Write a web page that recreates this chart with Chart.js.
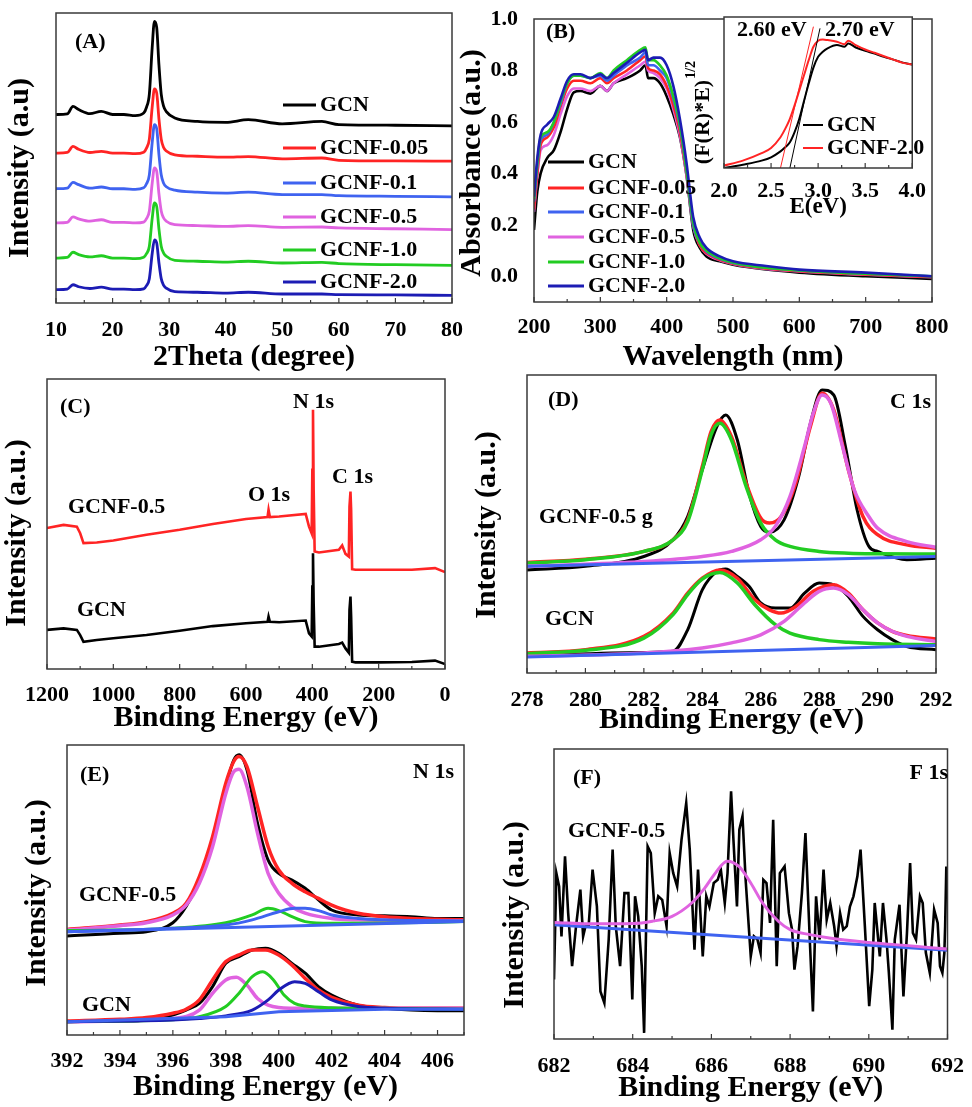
<!DOCTYPE html>
<html>
<head>
<meta charset="utf-8">
<script src="https://cdn.jsdelivr.net/npm/chart.js@4.4.1/dist/chart.umd.min.js"></script>
<style>
  body { margin: 0; background: #fff; }
  #wrap { position: relative; width: 972px; height: 1107px; overflow: hidden; background: #fff; }
  canvas { position: absolute; }
</style>
</head>
<body>
<div id="wrap">
  <canvas id="cA" width="486" height="372" style="left:0;top:0"></canvas>
  <canvas id="cB" width="517" height="372" style="left:455px;top:0"></canvas>
  <canvas id="cI" width="250" height="214" style="left:680px;top:5px"></canvas>
  <canvas id="cC" width="486" height="363" style="left:0;top:370px"></canvas>
  <canvas id="cD" width="502" height="365" style="left:470px;top:370px"></canvas>
  <canvas id="cE" width="486" height="362" style="left:0;top:740px"></canvas>
  <canvas id="cF" width="486" height="363" style="left:486px;top:740px"></canvas>
</div>
<script>
// ---- (A) XRD ----
var xrdTheta = [10, 12, 13, 14, 16, 18, 20, 22, 24, 25.5, 26, 26.5, 27, 27.4, 27.8, 28.2, 28.6, 29, 29.5, 31, 35, 40, 44, 50, 57, 60, 70, 80];
var xrdGCN  = [65, 65.2, 67.8, 66.7, 65.3, 66.1, 65, 65, 64.6, 65.5, 67.5, 72, 88, 97.1, 95, 82, 72, 68, 66, 63.8, 62.6, 62.3, 63.2, 61.8, 62.6, 61.5, 61.3, 61.1];
var xrdF005 = [51.7, 51.9, 54, 53, 51.9, 52.3, 51.7, 51.7, 51.5, 52, 53.4, 56.5, 67.5, 73.8, 72.4, 63.4, 56.5, 53.7, 52.4, 51.1, 50.6, 50.3, 50.5, 49.7, 50, 49.2, 49, 48.9];
var xrdF01  = [39.4, 39.6, 41.6, 40.8, 39.6, 40, 39.4, 39.4, 39.2, 39.7, 41.1, 44.2, 55.2, 61.5, 60.1, 51.1, 44.2, 41.4, 40.1, 38.9, 38.2, 37.9, 38.2, 37.4, 37.4, 37, 36.8, 36.6];
var xrdF05  = [27.6, 27.8, 29.7, 29, 28.2, 28.7, 27.8, 27.8, 27.6, 27.9, 29.1, 31.7, 41.2, 46.6, 45.4, 37.6, 31.7, 29.4, 28.2, 27, 26.7, 26.4, 26.7, 26.1, 26.2, 25.9, 25.6, 25.3];
var xrdF10  = [15.5, 15.7, 17.5, 16.7, 15.9, 16.3, 15.5, 15.5, 15.3, 15.8, 17, 19.6, 29.1, 34.5, 33.3, 25.5, 19.6, 17.3, 16.1, 14.7, 14.4, 14.1, 14.4, 13.8, 14, 13.6, 13.2, 13];
var xrdF20  = [4.6, 4.8, 6.3, 5.6, 5, 5.5, 4.8, 4.8, 4.6, 4.9, 6, 8.4, 17, 21.8, 20.7, 13.8, 8.4, 6.2, 5.1, 3.9, 3.7, 3.4, 3.7, 3.1, 3.1, 2.9, 2.8, 2.6];
var xrdTicks = [10, 20, 30, 40, 50, 60, 70, 80];
var xrdMinor = [15, 25, 35, 45, 55, 65, 75];

// ---- (B) UV-vis ----
var uvWl = [200, 205, 210, 220, 230, 240, 250, 260, 270, 285, 300, 310, 320, 340, 360, 368, 372, 380, 390, 400, 410, 420, 430, 440, 450, 460, 480, 500, 550, 600, 700, 800];
var uvGCN  = [0.18, 0.33, 0.40, 0.46, 0.49, 0.56, 0.65, 0.715, 0.72, 0.71, 0.74, 0.72, 0.75, 0.77, 0.80, 0.82, 0.77, 0.77, 0.75, 0.70, 0.63, 0.54, 0.39, 0.18, 0.11, 0.077, 0.058, 0.045, 0.026, 0.014, 0.0, -0.01];
var uvF005 = [0.26, 0.40, 0.51, 0.54, 0.58, 0.66, 0.73, 0.76, 0.76, 0.75, 0.77, 0.75, 0.77, 0.80, 0.84, 0.855, 0.81, 0.80, 0.785, 0.74, 0.665, 0.56, 0.40, 0.20, 0.12, 0.09, 0.064, 0.049, 0.03, 0.02, 0.007, -0.003];
var uvF01  = [0.29, 0.43, 0.53, 0.55, 0.60, 0.67, 0.75, 0.78, 0.78, 0.77, 0.78, 0.76, 0.78, 0.82, 0.85, 0.87, 0.82, 0.82, 0.80, 0.77, 0.69, 0.58, 0.41, 0.20, 0.13, 0.096, 0.068, 0.052, 0.033, 0.023, 0.01, 0.0];
var uvF05  = [0.25, 0.39, 0.49, 0.51, 0.55, 0.63, 0.70, 0.73, 0.73, 0.72, 0.74, 0.72, 0.75, 0.785, 0.82, 0.835, 0.80, 0.79, 0.77, 0.73, 0.65, 0.545, 0.39, 0.195, 0.12, 0.087, 0.062, 0.048, 0.028, 0.019, 0.006, -0.004];
var uvF10  = [0.30, 0.44, 0.54, 0.56, 0.60, 0.68, 0.75, 0.78, 0.78, 0.77, 0.79, 0.77, 0.80, 0.84, 0.88, 0.89, 0.84, 0.84, 0.82, 0.78, 0.70, 0.59, 0.41, 0.21, 0.13, 0.10, 0.07, 0.054, 0.033, 0.023, 0.01, 0.0];
var uvF20  = [0.31, 0.46, 0.55, 0.59, 0.62, 0.69, 0.76, 0.785, 0.785, 0.77, 0.785, 0.77, 0.79, 0.83, 0.87, 0.88, 0.84, 0.85, 0.85, 0.82, 0.74, 0.61, 0.44, 0.23, 0.15, 0.11, 0.077, 0.058, 0.04, 0.026, 0.014, 0.0];
var uvTicks = [200, 300, 400, 500, 600, 700, 800];
var uvMinor = [250, 350, 450, 550, 650, 750];
var uvYTicks = [0, 0.2, 0.4, 0.6, 0.8, 1.0];

// ---- (B) inset, Tauc plot ----
var taucE   = [2.0, 2.2, 2.4, 2.5, 2.6, 2.65, 2.7, 2.75, 2.8, 2.85, 2.9, 2.95, 3.0, 3.05, 3.1, 3.2, 3.28, 3.32, 3.4, 3.5, 3.6, 3.7, 3.8, 3.9, 4.0];
var taucGCN = [0, 2.2, 4.9, 7.1, 11, 13.7, 17, 23.7, 32.6, 44.3, 55.9, 66.5, 73.6, 77, 79.2, 81.4, 80.3, 82.5, 79.8, 77.6, 75.8, 73.6, 71.8, 69.8, 68.5];
var taucF20 = [1.6, 4.9, 9.8, 13.3, 20.4, 25.9, 32.6, 41.5, 51.4, 61.4, 71.4, 80.3, 84.3, 85.1, 84.7, 83.6, 82, 84.3, 81.4, 78.5, 76.3, 74, 71.8, 69.6, 68.5];
var tangentGCN = [[2.7, 0], [3.02, 92.5]];
var tangentF20 = [[2.6, 0], [2.95, 93.6]];
var taucTicks = [2.0, 2.5, 3.0, 3.5, 4.0];
var taucMinor = [2.25, 2.75, 3.25, 3.75];

// ---- (C) XPS survey ----
var surveyBE  = [1200, 1150, 1110, 1100, 1090, 1050, 1000, 900, 800, 700, 600, 535, 532, 528, 500, 420, 410, 402, 400, 398, 396, 393, 380, 320, 310, 300, 290, 288, 285, 283, 280, 270, 200, 100, 30, 0];
var surveyF05 = [48.6, 49.7, 49.1, 46.8, 43.4, 43.6, 44.3, 46.3, 48, 50, 51.7, 52.4, 54.9, 52.4, 52.6, 53.5, 49.1, 46.8, 68.7, 89.4, 62, 40.5, 40.2, 41.1, 42.6, 39.7, 38.8, 56, 61.2, 54.9, 34.4, 34.2, 34.2, 34.2, 34.8, 33.4];
var surveyGCN = [13.5, 14, 13.5, 11.7, 9.4, 10, 10.6, 11.7, 13.2, 14.8, 15.8, 16.3, 18.1, 16.3, 16.1, 16.7, 12.3, 11.2, 28.4, 39.9, 22.7, 7.7, 7.7, 8.6, 9.1, 7.1, 5.6, 20.4, 25, 18.1, 2.5, 2.3, 2.3, 2.4, 2.9, 1.7];
var surveyTicks = [0, 200, 400, 600, 800, 1000, 1200];
var surveyMinor = [100, 300, 500, 700, 900, 1100];

// ---- (D) C 1s ----
var c1sF05Raw  = [[278,34.6],[280,35.8],[282,39.1],[283,44.7],[283.5,52.5],[284,68.2],[284.5,82.7],[284.8,86.6],[285.2,78.2],[285.6,60.3],[286,49.2],[286.3,47.2],[286.8,51.4],[287.3,65.9],[287.7,83.8],[288.1,95],[288.5,93.3],[288.9,76],[289.3,54.7],[289.7,42.5],[290,40.8],[291,38],[292,38.5]];
var c1sF05Sum  = [[278,37.1],[280,38.2],[282,40.8],[283,44.7],[283.5,51.4],[284,69.3],[284.3,81],[284.6,84.9],[285,79.3],[285.5,63.7],[286,52],[286.3,50.3],[286.7,52.5],[287.2,63.7],[287.7,82.7],[288.1,93.9],[288.5,88.3],[289,68.2],[289.5,52.5],[290,46.4],[291,43],[292,41.9]];
var c1sF05CC   = [[278,36.9],[280,38],[282,40.8],[283,44.7],[283.5,50.8],[284,68.2],[284.3,79.9],[284.6,83.8],[285,78.2],[285.5,62.6],[286,50.3],[286.5,44.7],[287,42.5],[288,40.8],[289,40.2],[290,40],[292,39.9]];
var c1sF05NCN  = [[278,35.8],[282,37.4],[284,39.1],[285,40.8],[286,44.7],[286.5,49.2],[287,59.2],[287.5,76],[287.8,87.2],[288.1,93.3],[288.4,90.5],[288.8,76],[289.2,61.5],[289.7,52.5],[290,48.6],[291,44.1],[292,42.2]];
var c1sF05Base = [[278,35.8],[292,39.1]];
var c1sGCNRaw  = [[278,5.8],[282,6.9],[283,7.3],[283.5,14.5],[284,27.9],[284.5,34.1],[284.8,34.9],[285.2,32.4],[285.6,29.1],[286,23.5],[286.5,21.8],[287,21.8],[287.5,26.8],[288,30.2],[288.5,29.6],[289,25.7],[289.5,19],[290,14.5],[290.5,11.2],[291,8.9],[292,7.8]];
var c1sGCNSum  = [[278,6.7],[280,7.8],[282,12.3],[283,20.1],[283.5,26.8],[284,31.8],[284.6,34.6],[285.2,31.8],[285.8,24.6],[286.3,21.2],[286.7,20.1],[287.2,22.3],[287.8,27.4],[288.5,29.6],[289,26.8],[289.5,21.2],[290,16.8],[290.5,14],[291,12.6],[292,11.4]];
var c1sGCNCC   = [[278,6.5],[280,7.6],[282,11.7],[283,19.6],[283.5,26.3],[284,31.5],[284.6,33.7],[285.2,30.2],[285.8,22.9],[286.5,16.2],[287,13.4],[288,11.2],[289,10.3],[290,9.8],[292,9.5]];
var c1sGCNNCN  = [[278,5.6],[282,6.7],[284,8.4],[285,10.1],[286,12.8],[286.8,17.3],[287.5,23.5],[288,27.4],[288.5,28.5],[289,26.3],[289.5,21.2],[290,16.8],[290.5,14],[291,12.3],[292,10.6]];
var c1sGCNBase = [[278,5.4],[292,9.2]];
var c1sTicks = [278, 280, 282, 284, 286, 288, 290, 292];
var c1sMinor = [279, 281, 283, 285, 287, 289, 291];

// ---- (E) N 1s ----
var n1sF05Raw  = [[392,34.1],[394,35.1],[395,35.6],[396,38.7],[396.5,44.3],[397,53.4],[397.5,67.2],[398,85.6],[398.3,94.8],[398.5,96.6],[398.8,91.4],[399.2,73],[399.6,60.3],[400,55.7],[400.5,53.4],[401,50.6],[401.5,46.6],[402,43.1],[403,41.4],[404,41.1],[405,40.8],[406,40.2],[407,40.2]];
var n1sF05Sum  = [[392,36.4],[394,37.9],[395,39.1],[396,42],[396.5,45.4],[397,54.6],[397.5,68.4],[398,86.8],[398.3,94.3],[398.5,96],[398.8,92.5],[399.2,78.7],[399.6,64.9],[400,56.9],[400.5,52.3],[401,49.4],[401.5,47.1],[402,44.8],[402.5,43.1],[403,42],[404,40.8],[405,40.2],[406,39.9],[407,39.7]];
var n1sF05CNC  = [[392,36.2],[394,37.7],[395,38.7],[396,41.4],[396.5,44.8],[397,52.3],[397.5,64.9],[398,83.3],[398.3,90.8],[398.5,91.6],[398.8,85.6],[399.2,69.5],[399.6,55.7],[400,48.9],[400.5,44.3],[401,42],[402,40.2],[403,39.7],[405,39.4],[407,39.3]];
var n1sF05N3C  = [[392,36],[396,36.8],[398,38.7],[399,41.4],[399.6,43.7],[400,42.9],[400.5,40.8],[401,39.1],[402,38.5],[404,38.6],[407,39.1]];
var n1sF05NH   = [[392,35.6],[396,36.8],[398,37.9],[399,39.7],[400,42.5],[400.6,43.7],[401,43.7],[401.5,42.9],[402,41.4],[403,40.2],[404,39.7],[405,39.5],[407,39.3]];
var n1sF05Base = [[392,35.6],[407,39.1]];
var n1sGCNRaw  = [[392,4.6],[394,4.8],[395,5.2],[396,6.9],[396.5,8.6],[397,10.9],[397.5,16.7],[398,24.7],[398.5,27],[399,29.3],[399.5,29.9],[400,28.2],[400.5,24.7],[401,21.3],[401.5,16.7],[402,13.8],[403,10.3],[404,9.2],[405,8.6],[406,8.4],[407,8.4]];
var n1sGCNSum  = [[392,4.8],[394,5.4],[395,6],[396,7.5],[396.5,8.9],[397,12.1],[397.5,19],[398,25.3],[398.5,27.6],[399,29.3],[399.5,29.3],[400,27.6],[400.5,24.1],[401,19.5],[401.5,15.5],[402,13],[403,10.3],[404,9.5],[405,9.2],[407,9.2]];
var n1sGCNCNC  = [[392,4.6],[396,5.7],[397,8.6],[397.5,14.4],[398,19],[398.4,19.9],[398.8,17.2],[399.2,12.6],[399.6,10.3],[400,9.5],[401,9.2],[403,9.2],[407,9.2]];
var n1sGCNN3C  = [[392,4.6],[396,5.3],[397,6.3],[398,9.8],[398.5,14.4],[399,20.1],[399.4,21.8],[399.8,19],[400.2,13.8],[400.6,10.9],[401,10],[402,9.4],[404,9.2],[407,8.9]];
var n1sGCNNH   = [[392,4.6],[396,5.2],[397,5.7],[398,6.6],[399,8.6],[399.6,12.1],[400,15.5],[400.6,18.4],[401,17.8],[401.5,14.9],[402,12.1],[403,9.8],[404,9.2],[407,8.9]];
var n1sGCNBase = [[392,4.6],[398,6.3],[400,8],[404,8.9],[407,8.9]];
var n1sTicks = [392, 394, 396, 398, 400, 402, 404, 406];
var n1sMinor = [393, 395, 397, 399, 401, 403, 405, 407];

// ---- (F) F 1s ----
var f1sRaw = [[682.00,20.5],[682.06,57.2],[682.13,52.6],[682.19,35.4],[682.28,63.0],[682.36,43.4],[682.46,25.1],[682.56,38.9],[682.67,51.5],[682.74,35.4],[682.80,38.9],[682.88,38.9],[682.98,58.4],[683.09,45.7],[683.18,16.4],[683.28,12.4],[683.39,34.3],[683.49,65.3],[683.57,38.9],[683.68,25.1],[683.79,50.3],[683.89,50.3],[683.99,13.6],[684.06,49.2],[684.14,42.3],[684.23,25.1],[684.29,2.1],[684.38,66.4],[684.46,64.1],[684.56,43.4],[684.65,49.2],[684.75,48.0],[684.86,38.9],[684.94,64.1],[685.03,57.2],[685.13,52.6],[685.24,68.7],[685.36,81.4],[685.45,65.3],[685.57,30.8],[685.66,58.4],[685.78,28.5],[685.87,49.2],[685.95,45.7],[686.06,53.8],[686.16,54.9],[686.24,58.4],[686.34,46.9],[686.41,57.2],[686.50,85.4],[686.56,68.7],[686.65,45.7],[686.71,72.2],[686.79,76.8],[686.87,54.9],[687.00,28.5],[687.08,35.4],[687.17,34.3],[687.25,29.7],[687.32,54.9],[687.40,53.8],[687.49,40.0],[687.57,75.6],[687.66,25.1],[687.74,57.2],[687.86,59.5],[687.97,43.4],[688.05,37.7],[688.11,23.9],[688.19,32.0],[688.30,50.3],[688.39,71.0],[688.50,34.3],[688.58,9.5],[688.66,49.2],[688.75,34.3],[688.85,58.4],[688.93,41.1],[689.02,46.9],[689.12,38.9],[689.18,32.0],[689.27,43.4],[689.35,37.7],[689.44,38.9],[689.52,45.7],[689.61,49.2],[689.71,56.1],[689.79,65.3],[689.90,38.9],[690.01,11.3],[690.09,23.9],[690.15,46.9],[690.28,28.5],[690.36,46.9],[690.45,34.3],[690.51,22.8],[690.60,3.2],[690.66,34.3],[690.78,46.3],[690.88,14.7],[690.97,36.6],[691.05,60.7],[691.12,36.6],[691.20,34.3],[691.30,49.2],[691.37,46.9],[691.45,29.7],[691.55,22.8],[691.66,44.6],[691.75,40.0],[691.81,25.1],[691.87,22.8],[691.92,29.7],[691.94,38.9],[691.97,59.5]];
var f1sFit  = [[682,40.2],[683,39.7],[684,39.8],[684.5,40.6],[685,42.3],[685.5,46.9],[685.8,51.5],[686.1,57.2],[686.4,61.3],[686.7,59.5],[687,53.8],[687.3,46.9],[687.7,40.6],[688,37.7],[688.5,36],[689,34.8],[690,33.3],[691,32.2],[692,31]];
var f1sBase = [[682,39.4],[692,30.6]];
var f1sTicks = [682, 684, 686, 688, 690, 692];
var f1sMinor = [683, 685, 687, 689, 691];

var BLACK = '#000000', RED = '#ff2424', BLUE = '#3f63f0', PINK = '#e063e0', GREEN = '#22cc22', NAVY = '#1c1cb4';
var SERIF = '"Liberation Serif", "Times New Roman", serif';
Chart.defaults.font.family = SERIF;

// frame, inward ticks, labels and legends drawn on top of each panel
var deco = {
  id: 'deco',
  beforeDraw: function (chart, args, o) {
    if (!o.fill) return;
    var a = chart.chartArea, c = chart.ctx;
    c.save(); c.fillStyle = '#fff'; c.fillRect(a.left, a.top, a.right - a.left, a.bottom - a.top); c.restore();
  },
  afterDraw: function (chart, args, o) {
    var c = chart.ctx, a = chart.chartArea, xs = chart.scales.x;
    c.save();
    c.strokeStyle = '#3a3a3a'; c.lineWidth = 1.5;
    c.strokeRect(a.left, a.top, a.right - a.left, a.bottom - a.top);
    c.lineWidth = 1.2;
    (o.major || []).forEach(function (v) { var px = xs.getPixelForValue(v); c.beginPath(); c.moveTo(px, a.bottom); c.lineTo(px, a.bottom - 5); c.stroke(); });
    (o.minor || []).forEach(function (v) { var px = xs.getPixelForValue(v); c.beginPath(); c.moveTo(px, a.bottom); c.lineTo(px, a.bottom - 3); c.stroke(); });
    c.fillStyle = '#000'; c.textBaseline = 'middle';
    (o.legend || []).forEach(function (l) {
      c.strokeStyle = l.color; c.lineWidth = l.w || 3;
      c.beginPath(); c.moveTo(l.x1, l.y); c.lineTo(l.x2, l.y); c.stroke();
      c.font = 'bold ' + (l.size || 22) + 'px ' + SERIF; c.textAlign = 'left';
      c.fillText(l.label, l.x2 + 4, l.y);
    });
    (o.texts || []).forEach(function (t) {
      c.font = 'bold ' + (t.size || 22) + 'px ' + SERIF; c.textAlign = t.align || 'left';
      c.fillText(t.t, t.x, t.y);
    });
    if (o.ytitle) {
      var y = o.ytitle;
      c.translate(y.x, y.y); c.rotate(-Math.PI / 2);
      c.font = 'bold ' + (y.size || 30) + 'px ' + SERIF; c.textAlign = 'center';
      c.fillText(y.t, 0, 0);
      if (y.sup) {
        var w = c.measureText(y.t).width;
        c.font = 'bold 14px ' + SERIF; c.textAlign = 'left';
        c.fillText(y.sup, w / 2 + 1, -12);
      }
    }
    c.restore();
  }
};
Chart.register(deco);

function pts(xs, ys) { return xs.map(function (x, i) { return { x: x, y: ys[i] }; }); }
function pairs(p) { return p.map(function (d) { return { x: d[0], y: d[1] }; }); }
function line(data, color, w, smooth) {
  return { data: data, borderColor: color, borderWidth: w, pointRadius: 0, fill: false,
           cubicInterpolationMode: smooth ? 'monotone' : 'default', tension: 0 };
}

function panel(id, p) {
  var tickFont = { family: SERIF, size: 22, weight: 'bold', lineHeight: 1 };
  new Chart(document.getElementById(id), {
    type: 'line',
    data: { datasets: p.datasets },
    options: {
      responsive: false, animation: false, devicePixelRatio: 1,
      layout: { padding: { top: p.top, right: p.right, left: 0, bottom: 0 } },
      plugins: { legend: { display: false }, tooltip: { enabled: false }, deco: p.deco },
      scales: {
        x: {
          type: 'linear', min: p.xmin, max: p.xmax, reverse: !!p.reverse,
          grid: { display: false }, border: { display: false },
          afterBuildTicks: function (s) { s.ticks = p.xticks.map(function (v) { return { value: v }; }); },
          afterFit: function (s) { s.height = p.xh; },
          ticks: { color: '#000', font: p.tickFont || tickFont, padding: p.xpad, maxRotation: 0,
                   callback: p.xfmt || function (v) { return String(v); } },
          title: p.xtitle ? { display: true, text: p.xtitle, color: '#000', padding: 0,
                   font: { family: SERIF, size: p.xtitleSize || 30, weight: 'bold', lineHeight: 1 } } : { display: false }
        },
        y: {
          type: 'linear', min: p.ymin, max: p.ymax,
          grid: { display: false }, border: { display: false },
          afterBuildTicks: function (s) { s.ticks = (p.yticks || []).map(function (v) { return { value: v }; }); },
          afterFit: function (s) { s.width = p.yw; },
          ticks: { display: !!p.yticks, color: '#000', font: tickFont, padding: 8,
                   callback: function (v) { return v.toFixed(1); } }
        }
      }
    }
  });
}

panel('cA', {
  top: 13, right: 34, yw: 56, xh: 69, xpad: 8, xmin: 10, xmax: 80, ymin: 0, ymax: 100,
  xticks: xrdTicks, xtitle: '2Theta (degree)',
  datasets: [
    line(pts(xrdTheta, xrdGCN), BLACK, 2.8, true),
    line(pts(xrdTheta, xrdF005), RED, 2.8, true),
    line(pts(xrdTheta, xrdF01), BLUE, 2.8, true),
    line(pts(xrdTheta, xrdF05), PINK, 2.8, true),
    line(pts(xrdTheta, xrdF10), GREEN, 2.8, true),
    line(pts(xrdTheta, xrdF20), NAVY, 2.8, true)
  ],
  deco: {
    major: xrdTicks, minor: xrdMinor,
    texts: [{ t: '(A)', x: 75, y: 42 }],
    legend: [
      { label: 'GCN', color: BLACK, x1: 283, x2: 316, y: 105 },
      { label: 'GCNF-0.05', color: RED, x1: 283, x2: 316, y: 148 },
      { label: 'GCNF-0.1', color: BLUE, x1: 283, x2: 316, y: 183 },
      { label: 'GCNF-0.5', color: PINK, x1: 283, x2: 316, y: 217 },
      { label: 'GCNF-1.0', color: GREEN, x1: 283, x2: 316, y: 250 },
      { label: 'GCNF-2.0', color: NAVY, x1: 283, x2: 316, y: 282 }
    ],
    ytitle: { t: 'Intensity (a.u)', x: 20, y: 168 }
  }
});

panel('cB', {
  top: 12, right: 40, yw: 79, xh: 70, xpad: 6, xmin: 200, xmax: 800, ymin: -0.1, ymax: 1.0,
  xticks: uvTicks, yticks: uvYTicks, xtitle: 'Wavelength (nm)',
  datasets: [
    line(pts(uvWl, uvF20), NAVY, 2.6, true),
    line(pts(uvWl, uvF10), GREEN, 2.6, true),
    line(pts(uvWl, uvF01), BLUE, 2.6, true),
    line(pts(uvWl, uvF005), RED, 2.6, true),
    line(pts(uvWl, uvF05), PINK, 2.6, true),
    line(pts(uvWl, uvGCN), BLACK, 2.6, true)
  ],
  deco: {
    major: uvTicks, minor: uvMinor,
    texts: [{ t: '(B)', x: 91, y: 32 }],
    legend: [
      { label: 'GCN', color: BLACK, x1: 93, x2: 129, y: 162 },
      { label: 'GCNF-0.05', color: RED, x1: 93, x2: 129, y: 188 },
      { label: 'GCNF-0.1', color: BLUE, x1: 93, x2: 129, y: 212 },
      { label: 'GCNF-0.5', color: PINK, x1: 93, x2: 129, y: 237 },
      { label: 'GCNF-1.0', color: GREEN, x1: 93, x2: 129, y: 262 },
      { label: 'GCNF-2.0', color: NAVY, x1: 93, x2: 129, y: 286 }
    ],
    ytitle: { t: 'Absorbance (a.u.)', x: 17, y: 163 }
  }
});

panel('cI', {
  top: 12, right: 15, yw: 44, xh: 51, xpad: 4, xmin: 2, xmax: 4, ymin: 0, ymax: 100,
  xticks: taucTicks, xtitle: 'E(eV)', xtitleSize: 23,
  xfmt: function (v) { return v.toFixed(1); },
  datasets: [
    line(pairs(tangentF20), RED, 1, false),
    line(pairs(tangentGCN), BLACK, 1, false),
    line(pts(taucE, taucF20), RED, 2, true),
    line(pts(taucE, taucGCN), BLACK, 2, true)
  ],
  deco: {
    fill: true, major: taucTicks, minor: taucMinor,
    texts: [{ t: '2.60 eV', x: 57, y: 25 }, { t: '2.70 eV', x: 145, y: 25 }],
    legend: [
      { label: 'GCN', color: BLACK, x1: 123, x2: 143, y: 120, w: 2 },
      { label: 'GCNF-2.0', color: RED, x1: 123, x2: 143, y: 143, w: 2 }
    ],
    ytitle: { t: '(F(R)*E)', x: 23, y: 117, size: 22, sup: '1/2' }
  }
});

panel('cC', {
  top: 9, right: 41, yw: 47, xh: 64, xpad: 7, xmin: 0, xmax: 1200, ymin: 0, ymax: 100, reverse: true,
  xticks: surveyTicks, xtitle: 'Binding Energy (eV)',
  datasets: [
    line(pts(surveyBE, surveyF05), RED, 2.6, false),
    line(pts(surveyBE, surveyGCN), BLACK, 2.6, false)
  ],
  deco: {
    major: surveyTicks, minor: surveyMinor,
    texts: [
      { t: '(C)', x: 60, y: 37 }, { t: 'N 1s', x: 293, y: 32 }, { t: 'O 1s', x: 248, y: 125 },
      { t: 'C 1s', x: 332, y: 107 }, { t: 'GCNF-0.5', x: 68, y: 137 }, { t: 'GCN', x: 77, y: 240 }
    ],
    ytitle: { t: 'Intensity (a.u.)', x: 17, y: 163 }
  }
});

panel('cD', {
  top: 5, right: 36, yw: 57, xh: 62, xpad: 8, xmin: 278, xmax: 292, ymin: 0, ymax: 100,
  xticks: c1sTicks, xtitle: 'Binding Energy (eV)',
  datasets: [
    line(pairs(c1sF05Base), BLUE, 3, false),
    line(pairs(c1sF05NCN), PINK, 3.5, true),
    line(pairs(c1sF05CC), GREEN, 3.5, true),
    line(pairs(c1sF05Sum), RED, 3.5, true),
    line(pairs(c1sF05Raw), BLACK, 3, true),
    line(pairs(c1sGCNBase), BLUE, 3, false),
    line(pairs(c1sGCNNCN), PINK, 3.5, true),
    line(pairs(c1sGCNCC), GREEN, 3.5, true),
    line(pairs(c1sGCNSum), RED, 3.5, true),
    line(pairs(c1sGCNRaw), BLACK, 3, true)
  ],
  deco: {
    major: c1sTicks, minor: c1sMinor,
    texts: [
      { t: '(D)', x: 78, y: 30 }, { t: 'C 1s', x: 461, y: 32, align: 'right' },
      { t: 'GCNF-0.5 g', x: 69, y: 147 }, { t: 'GCN', x: 75, y: 249 }
    ],
    ytitle: { t: 'Intensity (a.u.)', x: 17, y: 155 }
  }
});

panel('cE', {
  top: 5, right: 22, yw: 67, xh: 67, xpad: 7, xmin: 392, xmax: 407, ymin: 0, ymax: 100,
  xticks: n1sTicks, xtitle: 'Binding Energy (eV)',
  datasets: [
    line(pairs(n1sF05Base), BLUE, 3, false),
    line(pairs(n1sF05NH), BLUE, 3, true),
    line(pairs(n1sF05N3C), GREEN, 3, true),
    line(pairs(n1sF05CNC), PINK, 3.5, true),
    line(pairs(n1sF05Sum), RED, 3.5, true),
    line(pairs(n1sF05Raw), BLACK, 3, true),
    line(pairs(n1sGCNBase), BLUE, 3, false),
    line(pairs(n1sGCNNH), NAVY, 3, true),
    line(pairs(n1sGCNN3C), GREEN, 3, true),
    line(pairs(n1sGCNCNC), PINK, 3.5, true),
    line(pairs(n1sGCNSum), RED, 3.5, true),
    line(pairs(n1sGCNRaw), BLACK, 3, true)
  ],
  deco: {
    major: n1sTicks, minor: n1sMinor,
    texts: [
      { t: '(E)', x: 80, y: 35 }, { t: 'N 1s', x: 454, y: 32, align: 'right' },
      { t: 'GCNF-0.5', x: 79, y: 155 }, { t: 'GCN', x: 82, y: 265 }
    ],
    ytitle: { t: 'Intensity (a.u.)', x: 37, y: 153 }
  }
});

panel('cF', {
  top: 9, right: 21, yw: 68, xh: 64, xpad: 8, xmin: 682, xmax: 692, ymin: 0, ymax: 100,
  xticks: f1sTicks, xtitle: 'Binding Energy (eV)',
  datasets: [
    line(pairs(f1sFit), PINK, 3, true),
    line(pairs(f1sBase), BLUE, 3, false),
    line(pairs(f1sRaw), BLACK, 2.6, false)
  ],
  deco: {
    major: f1sTicks, minor: f1sMinor,
    texts: [
      { t: '(F)', x: 87, y: 38 }, { t: 'F 1s', x: 462, y: 33, align: 'right' },
      { t: 'GCNF-0.5', x: 82, y: 91 }
    ],
    ytitle: { t: 'Intensity (a.u.)', x: 29, y: 175 }
  }
});
</script>
</body>
</html>
